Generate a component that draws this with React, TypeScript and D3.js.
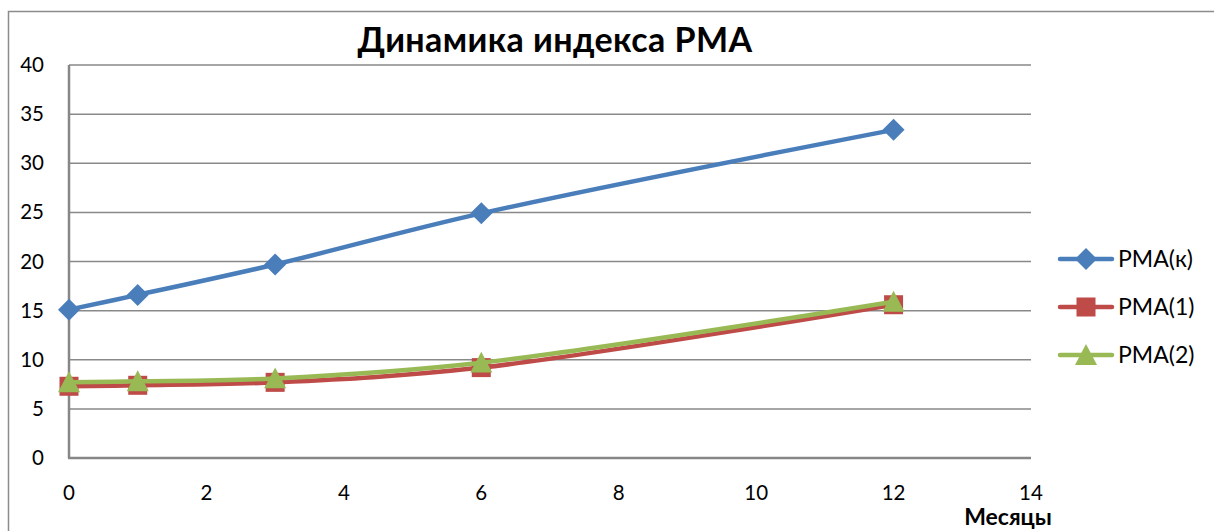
import React from "react";
import * as d3 from "d3";

const months = [0, 1, 3, 6, 12];
const pmaK = [15.1, 16.6, 19.7, 24.9, 33.4];
const pma1 = [7.3, 7.4, 7.7, 9.2, 15.6];
const pma2 = [7.7, 7.8, 8.1, 9.7, 15.9];
const seriesNames = ["PMA(к)", "PMA(1)", "PMA(2)"];
const seriesColors = ["#4A7EBB", "#BE4B48", "#98B954"];
const xTicks = [0, 2, 4, 6, 8, 10, 12, 14];
const yTicks = [0, 5, 10, 15, 20, 25, 30, 35, 40];

const W = 1214;
const H = 531;
const FONT = "Lato, 'Open Sans', 'Noto Sans', sans-serif";

function Marker({ kind, x, y, color }: { kind: number; x: number; y: number; color: string }) {
  if (kind === 0) {
    const s = 11;
    return <path d={`M${x},${y - s}L${x + s},${y}L${x},${y + s}L${x - s},${y}Z`} fill={color} />;
  }
  if (kind === 1) {
    const s = 9.5;
    return <rect x={x - s} y={y - s} width={2 * s} height={2 * s} fill={color} />;
  }
  const s = 11;
  return <path d={`M${x},${y - s}L${x + s},${y + s * 0.9}L${x - s},${y + s * 0.9}Z`} fill={color} />;
}

export default function App() {
  const x = d3.scaleLinear().domain([0, 14]).range([69, 1031]);
  const y = d3.scaleLinear().domain([0, 40]).range([458, 65]);
  const data = [pmaK, pma1, pma2];
  const line = d3
    .line<number>()
    .x((_, i) => x(months[i]))
    .y((d) => y(d))
    .curve(d3.curveCatmullRom.alpha(0.5));

  return (
    <svg width={W} height={H} style={{ position: "absolute", left: 0, top: 0 }}>
      <rect x={0} y={0} width={W} height={H} fill="#fff" />
      <path d={`M8.5,${H}V11.5H${W}`} fill="none" stroke="#8c8c8c" strokeWidth={1.5} />
      <text x={555} y={52} textAnchor="middle" fontFamily={FONT} fontWeight="bold" fontSize={34} letterSpacing={0.4} fill="#000">
        Динамика индекса PMA
      </text>
      {yTicks.slice(1).map((t) => (
        <line key={t} x1={69} x2={1031} y1={y(t)} y2={y(t)} stroke="#898989" strokeWidth={1.5} />
      ))}
      <line x1={69} x2={69} y1={65} y2={458} stroke="#878787" strokeWidth={2.5} />
      <line x1={68} x2={1031} y1={458} y2={458} stroke="#878787" strokeWidth={2.5} />
      {yTicks.map((t) => (
        <text key={t} x={44} y={y(t) + 7} textAnchor="end" fontFamily={FONT} fontSize={20.5} fill="#000">
          {t}
        </text>
      ))}
      {xTicks.map((t) => (
        <text key={t} x={x(t)} y={500} textAnchor="middle" fontFamily={FONT} fontSize={20.5} fill="#000">
          {t}
        </text>
      ))}
      <text x={1008} y={525} textAnchor="middle" fontFamily={FONT} fontWeight="bold" fontSize={23} fill="#000">
        Месяцы
      </text>
      {data.map((s, k) => (
        <g key={k}>
          <path d={line(s) || ""} fill="none" stroke={seriesColors[k]} strokeWidth={4.5} strokeLinejoin="round" />
          {s.map((v, i) => (
            <Marker key={i} kind={k} x={x(months[i])} y={y(v)} color={seriesColors[k]} />
          ))}
        </g>
      ))}
      {seriesNames.map((n, k) => {
        const ly = 259 + k * 48;
        return (
          <g key={n}>
            <line x1={1060} x2={1112} y1={ly} y2={ly} stroke={seriesColors[k]} strokeWidth={4.5} strokeLinecap="round" />
            <Marker kind={k} x={1086} y={ly} color={seriesColors[k]} />
            <text x={1118} y={ly + 8} fontFamily={FONT} fontSize={23} fill="#000">
              {n}
            </text>
          </g>
        );
      })}
    </svg>
  );
}
